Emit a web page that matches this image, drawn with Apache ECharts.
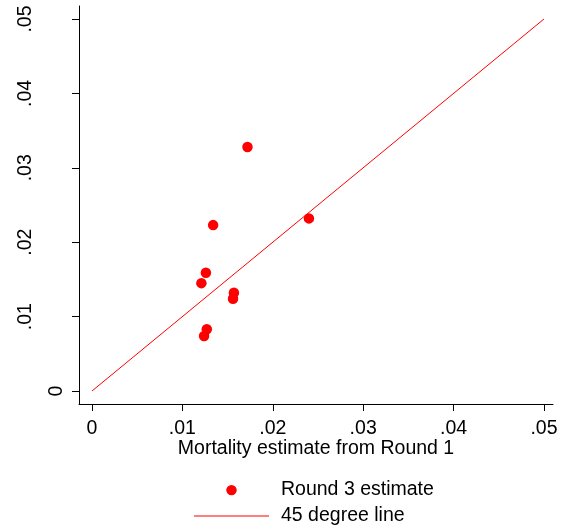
<!DOCTYPE html>
<html>
<head>
<meta charset="utf-8">
<script src="https://cdn.jsdelivr.net/npm/echarts@6/dist/echarts.min.js"></script>
<style>
html,body{margin:0;padding:0;background:#fff;}
#chart{width:563px;height:531px;}
</style>
</head>
<body>
<div id="chart"></div>
<script>
// Data
const round1 = [0.0172, 0.0134, 0.0240, 0.0126, 0.0121, 0.0157, 0.0156, 0.0127, 0.0124];
const round3 = [0.0328, 0.0223, 0.0232, 0.0159, 0.0145, 0.0132, 0.0124, 0.0083, 0.0074];
const lineX = [0, 0.05];
const lineY = [0, 0.05];
const tickValues = [0, 0.01, 0.02, 0.03, 0.04, 0.05];
const tickLabels = ['0', '.01', '.02', '.03', '.04', '.05'];
const xTitle = 'Mortality estimate from Round 1';
const seriesNames = ['Round 3 estimate', '45 degree line'];

const FONT = '"Liberation Sans", Arial, sans-serif';
const FS = 19.5;

function labelFor(v) {
  for (let i = 0; i < tickValues.length; i++) {
    if (Math.abs(v - tickValues[i]) < 1e-9) return tickLabels[i];
  }
  return '';
}

const legendText = {color: '#000', fontFamily: FONT, fontSize: FS, padding: [0, 0, 0, 7]};
// wide legend icon box with a centred dot
const dotIcon = 'path://M0,0L0.01,0L0,0ZM75,0L75.01,0L75,0ZM32.25,5.5A5.25,5.25 0 1,0 42.75,5.5A5.25,5.25 0 1,0 32.25,5.5Z';

const chart = echarts.init(document.getElementById('chart'), null, {renderer: 'canvas'});
chart.setOption({
  animation: false,
  backgroundColor: '#ffffff',
  grid: {left: 79, right: 10, top: 6, bottom: 127, containLabel: false},
  xAxis: {
    type: 'value',
    min: -0.001438,
    max: 0.0510,
    splitLine: {show: false},
    axisLine: {show: true, onZero: false, lineStyle: {color: '#000', width: 1}},
    axisTick: {show: true, customValues: tickValues, length: 7, lineStyle: {color: '#000', width: 1}},
    axisLabel: {
      customValues: tickValues,
      formatter: function (v) { return labelFor(v); },
      color: '#000', fontFamily: FONT, fontSize: FS, margin: 15
    },
    name: xTitle,
    nameLocation: 'middle',
    nameGap: 35,
    nameMoveOverlap: false,
    nameTextStyle: {color: '#000', fontFamily: FONT, fontSize: FS}
  },
  yAxis: {
    type: 'value',
    min: -0.001747,
    max: 0.05175,
    splitLine: {show: false},
    axisLine: {show: true, onZero: false, lineStyle: {color: '#000', width: 1}},
    axisTick: {show: true, customValues: tickValues, length: 7, lineStyle: {color: '#000', width: 1}},
    axisLabel: {
      customValues: tickValues,
      rotate: 90,
      margin: 12,
      formatter: function (v) {
        const t = labelFor(v);
        return t === '0' ? '{z|' + t + '}' : '{n|' + t + '}';
      },
      rich: {
        z: {color: '#000', fontFamily: FONT, fontSize: FS},
        n: {color: '#000', fontFamily: FONT, fontSize: FS, padding: [0, 0, 31, 0]}
      },
      color: '#000', fontFamily: FONT, fontSize: FS
    }
  },
  legend: [
    {
      orient: 'vertical',
      left: 194,
      top: 480,
      padding: 0,
      itemWidth: 75,
      itemHeight: 11,
      icon: dotIcon,
      textStyle: legendText,
      data: [seriesNames[0]]
    },
    {
      orient: 'vertical',
      left: 194,
      top: 506,
      padding: 0,
      itemWidth: 75,
      itemHeight: 1,
      icon: 'rect',
      textStyle: legendText,
      data: [seriesNames[1]]
    }
  ],
  series: [
    {
      name: seriesNames[1],
      type: 'line',
      data: lineX.map((x, i) => [x, lineY[i]]),
      symbol: 'none',
      lineStyle: {color: '#ff0000', width: 1},
      itemStyle: {color: '#ff0000'},
      z: 1
    },
    {
      name: seriesNames[0],
      type: 'scatter',
      data: round1.map((x, i) => [x, round3[i]]),
      symbol: 'circle',
      symbolSize: 10.5,
      itemStyle: {color: '#ff0000', opacity: 1},
      z: 2
    }
  ]
});
</script>
</body>
</html>
